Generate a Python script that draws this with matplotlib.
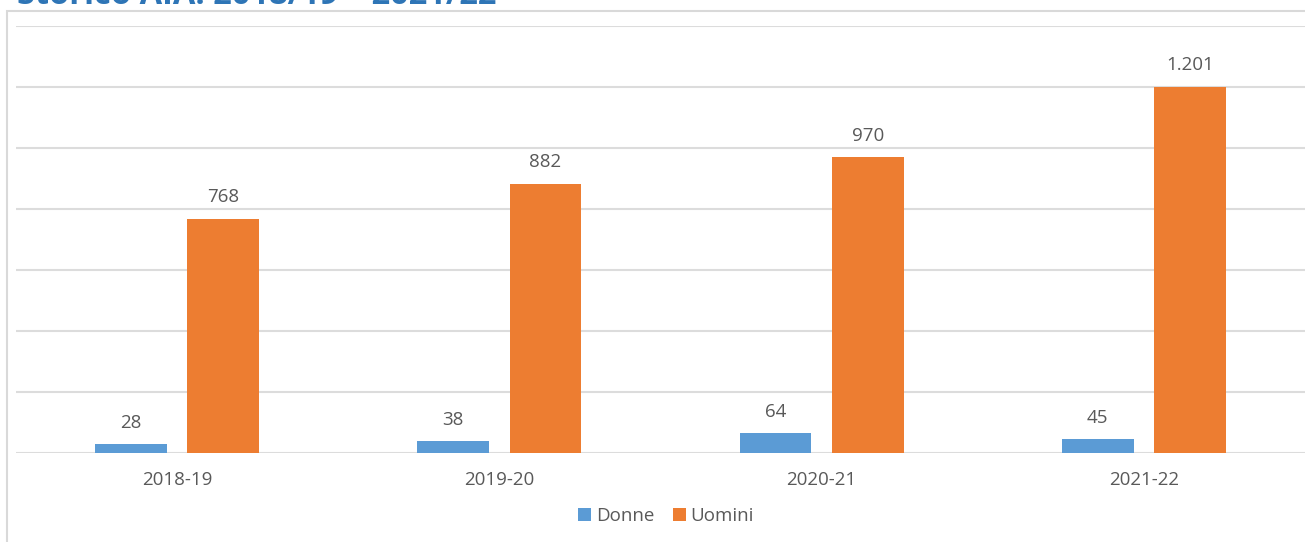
import matplotlib.pyplot as plt
import numpy as np
from matplotlib.patches import Rectangle

plt.rcParams['font.family'] = ['Open Sans', 'DejaVu Sans']

anni = ['2018-19', '2019-20', '2020-21', '2021-22']
donne = [28, 38, 64, 45]
uomini = [768, 882, 970, 1201]

blu = '#5B9BD5'
arancio = '#ED7D31'
grigio = '#595959'

W, H = 1305, 542
fig = plt.figure(figsize=(W / 100, H / 100), dpi=100)

# cornice grigia del grafico
fig.patches.append(Rectangle((7 / W, -0.1), 1.2, (H - 11) / H + 0.1,
                             transform=fig.transFigure, fill=False,
                             edgecolor='#d9d9d9', linewidth=1.5))

# titolo tagliato dal bordo superiore
fig.text(17 / W, 1 - 4.5 / H, 'Storico AIA: 2018/19 – 2021/22', color='#2E75B6',
         fontsize=23.5, fontweight='bold', va='baseline', ha='left')

ax = fig.add_axes([16 / W, (H - 453) / H, (W - 16) / W, (453 - 26) / H])

x = np.arange(len(anni))
w = 0.223
off = 0.143
b1 = ax.bar(x - off, donne, w, color=blu, label='Donne', zorder=3)
b2 = ax.bar(x + off, uomini, w, color=arancio, label='Uomini', zorder=3)

def fmt(v):
    return f'{v:,}'.replace(',', '.')

for bars, vals in ((b1, donne), (b2, uomini)):
    for r, v in zip(bars, vals):
        ax.annotate(fmt(v), (r.get_x() + r.get_width() / 2, v),
                    xytext=(0, 15.5), textcoords='offset points',
                    ha='center', va='center', fontsize=13.5, color=grigio)

ax.set_xlim(-0.5, 3.5)
ax.set_ylim(0, 1400)
ax.set_yticks(np.arange(0, 1401, 200))
ax.set_yticklabels([])
ax.tick_params(axis='y', length=0)
ax.set_xticks(x)
ax.set_xticklabels(anni, fontsize=13.5, color=grigio)
ax.tick_params(axis='x', length=0, pad=13)
ax.grid(axis='y', color='#dcdcdc', linewidth=1.5, zorder=0)
for s in ax.spines.values():
    s.set_visible(False)

ax.legend(loc='center', bbox_to_anchor=(666 / W, 1 - 516 / H),
          bbox_transform=fig.transFigure, ncol=2, frameon=False,
          fontsize=13.5, labelcolor=grigio, handlelength=0.7,
          handleheight=0.7, handletextpad=0.25, columnspacing=1.0)

fig.savefig('out.png', dpi=100)
